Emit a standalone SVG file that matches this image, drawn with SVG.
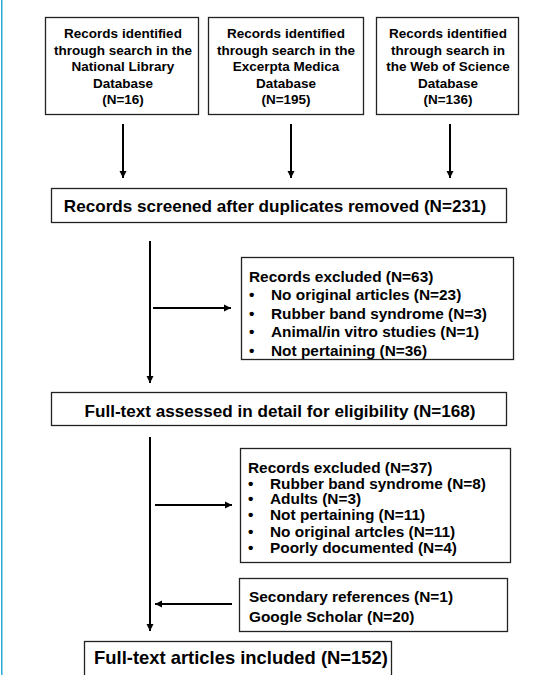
<svg xmlns="http://www.w3.org/2000/svg" width="534" height="675" viewBox="0 0 534 675">
<defs>
<style>
.box{fill:#fff;stroke:#222;stroke-width:1.3}
.t{font-family:"Liberation Sans",Arial,sans-serif;font-weight:bold;fill:#000}
.c{text-anchor:middle}
.s1{font-size:13.5px}
.s2{font-size:15.4px}
.s3{font-size:17.1px}
.s4{font-size:18.4px}
.ln{stroke:#000;stroke-width:2;fill:none}
</style>
<marker id="ah" viewBox="0 0 10 10" refX="10" refY="5" markerWidth="3.6" markerHeight="3.6" markerUnits="strokeWidth" orient="auto">
<path d="M0,0 L10,5 L0,10 z" fill="#000"/>
</marker>
</defs>
<rect x="0" y="0" width="534" height="675" fill="#fff"/>
<rect x="1" y="0" width="1.5" height="675" fill="#2aaad6"/>

<g id="node-nlm">
<rect class="box" x="45.5" y="17.5" width="153" height="97"/>
<text class="t s1 c" x="123" y="38">Records identified</text>
<text class="t s1 c" x="123" y="54.5">through search in the</text>
<text class="t s1 c" x="123" y="71">National Library</text>
<text class="t s1 c" x="123" y="88">Database</text>
<text class="t s1 c" x="123" y="104">(N=16)</text>
</g>
<g id="node-embase">
<rect class="box" x="208.5" y="17.5" width="155" height="97"/>
<text class="t s1 c" x="286" y="38">Records identified</text>
<text class="t s1 c" x="286" y="54.5">through search in the</text>
<text class="t s1 c" x="286" y="71">Excerpta Medica</text>
<text class="t s1 c" x="286" y="88">Database</text>
<text class="t s1 c" x="286" y="104">(N=195)</text>
</g>
<g id="node-wos">
<rect class="box" x="376.5" y="17.5" width="142" height="97"/>
<text class="t s1 c" x="448" y="38">Records identified</text>
<text class="t s1 c" x="448" y="54.5">through search in</text>
<text class="t s1 c" x="448" y="71">the Web of Science</text>
<text class="t s1 c" x="448" y="88">Database</text>
<text class="t s1 c" x="448" y="104">(N=136)</text>
</g>
<g id="node-screened">
<rect class="box" x="51.5" y="188.5" width="455" height="34"/>
<text class="t s3 c" x="275" y="211.5">Records screened after duplicates removed (N=231)</text>
</g>
<g id="node-excl1">
<rect class="box" x="241.5" y="257.5" width="272" height="102"/>
<text class="t s2" x="249" y="281.5">Records excluded (N=63)</text>
<text class="t s2" x="249" y="299.5">•</text><text class="t s2" x="271" y="299.5">No original articles (N=23)</text>
<text class="t s2" x="249" y="318.5">•</text><text class="t s2" x="271" y="318.5">Rubber band syndrome (N=3)</text>
<text class="t s2" x="249" y="337">•</text><text class="t s2" x="271" y="337">Animal/in vitro studies (N=1)</text>
<text class="t s2" x="249" y="355.5">•</text><text class="t s2" x="271" y="355.5">Not pertaining (N=36)</text>
</g>
<g id="node-fulltext">
<rect class="box" x="51.5" y="392.5" width="455" height="33"/>
<text class="t s3 c" x="280" y="416.5">Full-text assessed in detail for eligibility (N=168)</text>
</g>
<g id="node-excl2">
<rect class="box" x="240.5" y="448.5" width="270" height="114"/>
<text class="t s2" x="248" y="472.5">Records excluded (N=37)</text>
<text class="t s2" x="248" y="488.5">•</text><text class="t s2" x="270" y="488.5">Rubber band syndrome (N=8)</text>
<text class="t s2" x="248" y="503.8">•</text><text class="t s2" x="270" y="503.8">Adults (N=3)</text>
<text class="t s2" x="248" y="519.8">•</text><text class="t s2" x="270" y="519.8">Not pertaining (N=11)</text>
<text class="t s2" x="248" y="536.5">•</text><text class="t s2" x="270" y="536.5">No original artcles (N=11)</text>
<text class="t s2" x="248" y="552.5">•</text><text class="t s2" x="270" y="552.5">Poorly documented (N=4)</text>
</g>
<g id="node-secondary">
<rect class="box" x="239.5" y="578.5" width="268" height="53"/>
<text class="t s2" x="249" y="601.5">Secondary references (N=1)</text>
<text class="t s2" x="249" y="621.5">Google Scholar (N=20)</text>
</g>
<g id="node-included">
<rect class="box" x="84.5" y="641.5" width="307" height="45"/>
<text class="t s4 c" x="241" y="663.5">Full-text articles included (N=152)</text>
</g>

<g id="connectors">
<line class="ln" x1="123" y1="124" x2="123" y2="178" marker-end="url(#ah)"/>
<line class="ln" x1="291" y1="124" x2="291" y2="178" marker-end="url(#ah)"/>
<line class="ln" x1="450" y1="124" x2="450" y2="178" marker-end="url(#ah)"/>
<line class="ln" x1="150" y1="241" x2="150" y2="383" marker-end="url(#ah)"/>
<line class="ln" x1="153" y1="308" x2="231" y2="308" marker-end="url(#ah)"/>
<line class="ln" x1="150" y1="437" x2="150" y2="631" marker-end="url(#ah)"/>
<line class="ln" x1="155" y1="505" x2="232" y2="505" marker-end="url(#ah)"/>
<line class="ln" x1="232" y1="604" x2="155" y2="604" marker-end="url(#ah)"/>
</g>
</svg>
